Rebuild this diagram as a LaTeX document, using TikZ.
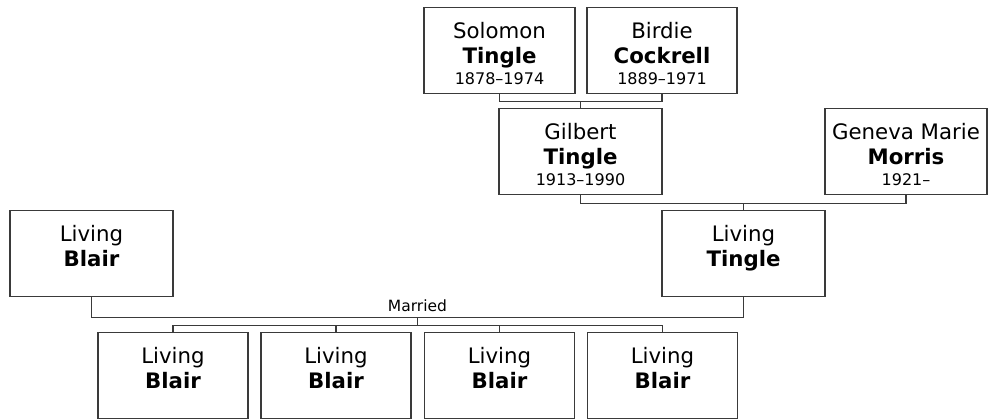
\documentclass[tikz,border=0pt]{standalone}
\usepackage{fontspec}
\setmainfont{DejaVu Sans}
\usetikzlibrary{calc}
\definecolor{edge}{HTML}{3A3A3A}
\tikzset{
  pbox/.style={draw=edge, line width=1.3pt, fill=white, rectangle, inner sep=0pt, minimum height=86pt},
  conn/.style={draw=edge, line width=1.2pt},
  nametxt/.style={anchor=base, inner sep=0pt, font=\fontsize{21.3}{24}\selectfont},
  lasttxt/.style={anchor=base, inner sep=0pt, font=\fontsize{21.3}{24}\selectfont\bfseries},
  yeartxt/.style={anchor=base, inner sep=0pt, font=\fontsize{16}{19}\selectfont},
  lbl/.style={anchor=base, inner sep=0pt, font=\fontsize{15.5}{18}\selectfont}
}
% #1 name, #2 centre x, #3 top y, #4 width, #5 first, #6 last, #7 years
\newcommand{\psn}[7]{%
  \node[pbox, minimum width=#4pt, anchor=north] (#1) at (#2pt,-#3pt) {};
  \node[nametxt] (#1-f) at ([yshift=-31pt]#1.north) {#5};
  \node[lasttxt] (#1-l) at ([yshift=-56pt]#1.north) {#6};
  \node[yeartxt] (#1-y) at ([yshift=-77pt]#1.north) {#7};
}
\begin{document}
\begin{tikzpicture}[x=1pt,y=1pt]
\useasboundingbox (0,0) rectangle (988,-418);
\psn{sol}{499.5}{7}{151}{Solomon}{Tingle}{1878–1974}
\psn{bir}{662}{7}{150}{Birdie}{Cockrell}{1889–1971}
\psn{gil}{580.5}{108}{163}{Gilbert}{Tingle}{1913–1990}
\psn{gen}{906}{108}{162}{Geneva Marie}{Morris}{1921–}
\psn{tin}{743.5}{210}{163}{Living}{Tingle}{}
\psn{bla}{91.5}{210}{163}{Living}{Blair}{}
\psn{c1}{173}{332}{150}{Living}{Blair}{}
\psn{c2}{336}{332}{150}{Living}{Blair}{}
\psn{c3}{499.5}{332}{150}{Living}{Blair}{}
\psn{c4}{662.5}{332}{150}{Living}{Blair}{}
% Solomon + Birdie -> Gilbert
\coordinate (j1) at ($(sol.south)!0.5!(bir.south)+(0,-7)$);
\draw[conn] (sol.south) |- (j1) -| (bir.south);
\draw[conn] (j1) -- (j1 |- gil.north);
% Gilbert + Geneva -> Living Tingle
\coordinate (j2) at ($(gil.south)!0.5!(gen.south)+(0,-8)$);
\draw[conn] (gil.south) |- (j2) -| (gen.south);
\draw[conn] (j2) -- (j2 |- tin.north);
% Blair + Tingle -> children
\coordinate (j3) at ($(bla.south)!0.5!(tin.south)+(0,-20)$);
\draw[conn] (bla.south) |- (j3) -| (tin.south);
\node[lbl] (mar) at ($(j3)+(0,6)$) {Married};
\coordinate (j4) at ($(j3)+(0,-8)$);
\draw[conn] (j3) -- (j4);
\draw[conn] (c1.north) |- (j4) -| (c4.north);
\draw[conn] (c2.north) -- (c2.north |- j4);
\draw[conn] (c3.north) -- (c3.north |- j4);
\end{tikzpicture}
\end{document}
